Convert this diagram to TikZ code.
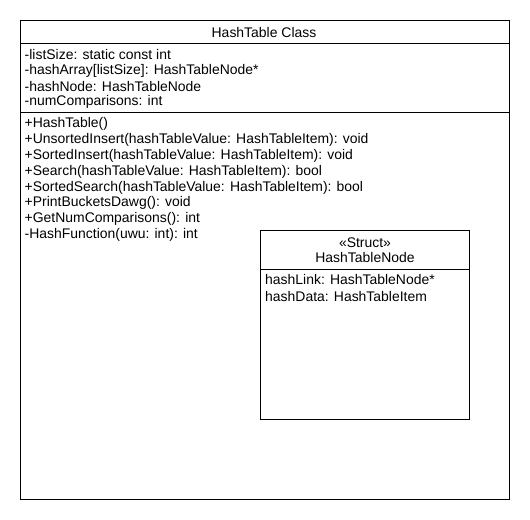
\documentclass[tikz,border=0pt]{standalone}
\usepackage{fontspec}
\setmainfont{Liberation Sans}
\begin{document}
\begin{tikzpicture}[x=1bp,y=-1bp,
  box/.style={draw=black,line width=0.9bp},
  txt/.style={anchor=west,inner sep=0pt,font=\fontsize{14}{16}\selectfont},
  ctxt/.style={anchor=center,inner sep=0pt,font=\fontsize{14}{16}\selectfont}]
\useasboundingbox (0,0) rectangle (530,520);
% outer class
\draw[box] (20.5,20.5) rectangle (509,499);
\draw[box] (20.5,43.5) -- (509,43.5);
\draw[box] (20.5,112) -- (509,112);
\node[ctxt] (title) at (264,33) {HashTable Class};
\node[txt] (a1) at (24.5,55) {-listSize: static const int};
\node[txt] (a2) at (24.5,71) {-hashArray[listSize]: HashTableNode*};
\node[txt] (a3) at (24.5,87) {-hashNode: HashTableNode};
\node[txt] (a4) at (24.5,102) {-numComparisons: int};
\node[txt] (m1) at (24.5,124) {+HashTable()};
\node[txt] (m2) at (24.5,140) {+UnsortedInsert(hashTableValue: HashTableItem): void};
\node[txt] (m3) at (24.5,156) {+SortedInsert(hashTableValue: HashTableItem): void};
\node[txt] (m4) at (24.5,172) {+Search(hashTableValue: HashTableItem): bool};
\node[txt] (m5) at (24.5,188) {+SortedSearch(hashTableValue: HashTableItem): bool};
\node[txt] (m6) at (24.5,203) {+PrintBucketsDawg(): void};
\node[txt] (m7) at (24.5,219) {+GetNumComparisons(): int};
\node[txt] (m8) at (24.5,235) {-HashFunction(uwu: int): int};
% struct
\draw[box] (260.5,230.5) rectangle (469,419);
\draw[box] (260.5,269) -- (469,269);
\node[ctxt] (st) at (365,243) {«Struct»};
\node[ctxt] (sn) at (365,258) {HashTableNode};
\node[txt] (s1) at (265,280) {hashLink: HashTableNode*};
\node[txt] (s2) at (265,297) {hashData: HashTableItem};
\end{tikzpicture}
\end{document}
